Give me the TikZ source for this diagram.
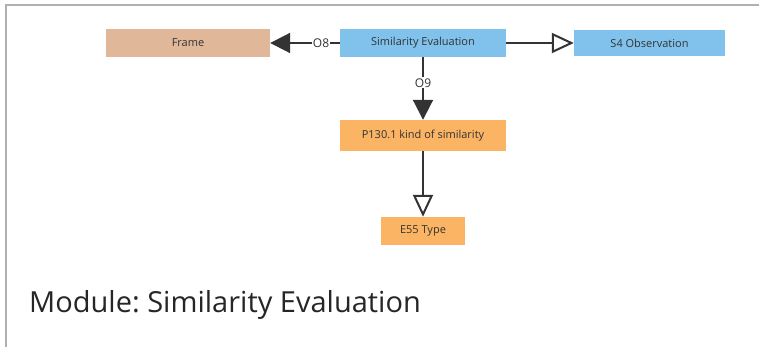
\documentclass[tikz,border=0pt]{standalone}
\usepackage{fontspec}
\setmainfont{Open Sans}
\frenchspacing
\usetikzlibrary{arrows.meta}
\definecolor{framecol}{HTML}{E0B899}
\definecolor{classblue}{HTML}{80C2EC}
\definecolor{propcol}{HTML}{FBB464}
\definecolor{linecol}{HTML}{333333}
\definecolor{bordercol}{HTML}{B0B0B0}
\tikzset{
  box/.style={draw=none, minimum height=28pt, inner sep=0pt, font=\fontsize{11}{13}\selectfont, text=linecol},
  rel/.style={draw=linecol, line width=2pt},
  filledtip/.style={-{Triangle[length=20pt,width=20pt]}},
  opentip/.style={-{Triangle[open,length=22pt,width=20pt,line width=2pt]}},
  lbl/.style={fill=white, inner sep=1pt, font=\fontsize{12}{14}\selectfont, text=linecol}
}
\begin{document}
\begin{tikzpicture}[x=1pt,y=-1pt]
\useasboundingbox (0,0) rectangle (759,347);
% outer frame (left and top edges only)
\draw[bordercol, line width=2pt] (6,347) -- (6,5) -- (759,5);
% nodes
\node[box, fill=framecol, minimum width=164pt] (frame) at (188,43) {Frame};
\node[box, fill=classblue, minimum width=166pt] (simeval) at (423,43) {Similarity Evaluation};
\node[box, fill=classblue, minimum width=151pt, minimum height=26pt] (obs) at (649.5,43) {S4 Observation};
\node[box, fill=propcol, minimum width=166pt, minimum height=31pt] (kind) at (423,135.5) {P130.1 kind of similarity};
\node[box, fill=propcol, minimum width=84pt] (type) at (423,231) {E55 Type};
% connectors
\draw[rel, filledtip] (simeval.west) -- node[lbl, pos=0.27] {O8} (frame.east);
\draw[rel, opentip] (simeval.east) -- (obs.west);
\draw[rel, filledtip] (simeval.south) -- node[lbl, pos=0.41] {O9} (kind.north);
\draw[rel, opentip] (kind.south) -- (type.north);
% title
\node[anchor=base west, inner sep=0pt, font=\fontsize{29}{33}\selectfont, text=black!85] (title) at (29,312) {Module: Similarity Evaluation};
\end{tikzpicture}
\end{document}
